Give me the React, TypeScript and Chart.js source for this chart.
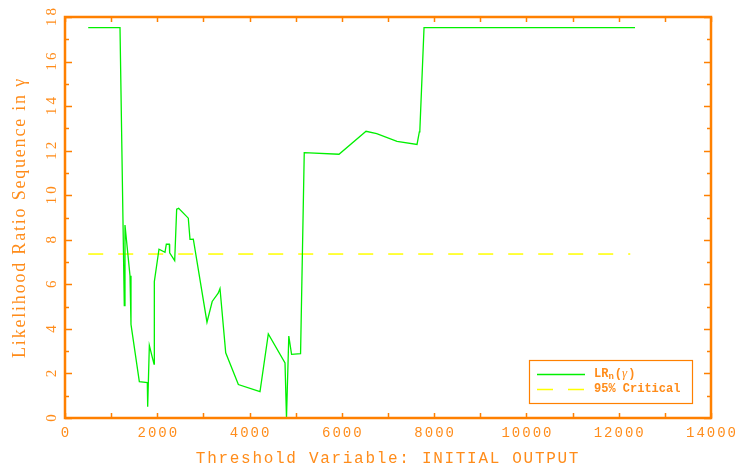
import { useEffect, useRef } from 'react';
import { Chart, registerables } from 'chart.js';

Chart.register(...registerables);

// ---- data ----
const thresholdX = [
  503, 1192, 1285, 1300, 1409, 1430, 1611, 1784, 1792, 1828, 1929, 1936, 2037, 2167, 2196, 2261,
  2268, 2377, 2420, 2463, 2672, 2709, 2781, 3077, 3190, 3320, 3359, 3483, 3757, 4226, 4406, 4768,
  4800, 4850, 4910, 5105, 5185, 5938, 6524, 6755, 7195, 7629, 7679, 7690, 7781, 12353,
];
const lrValues = [
  17.52, 17.52, 5.04, 8.66, 6.38, 4.2, 1.63, 1.59, 0.51, 3.25, 2.42, 6.12, 7.58, 7.44, 7.8, 7.8,
  7.41, 7.06, 9.37, 9.41, 8.97, 8.02, 8.03, 4.3, 5.23, 5.6, 5.81, 2.93, 1.5, 1.18, 3.77, 2.47,
  0.0, 3.68, 2.86, 2.89, 11.91, 11.84, 12.87, 12.76, 12.42, 12.28, 12.84, 12.9, 17.52, 17.52,
];
const criticalX = [503, 12250];
const criticalValue = 7.36;

const xTicks = [0, 2000, 4000, 6000, 8000, 10000, 12000, 14000];
const xMinorTicks = [1000, 3000, 5000, 7000, 9000, 11000, 13000];
const yTicks = [0, 2, 4, 6, 8, 10, 12, 14, 16, 18];
const yMinorTicks = [1, 3, 5, 7, 9, 11, 13, 15, 17];

const xTitle = 'Threshold Variable: INITIAL OUTPUT';
const yTitle = 'Likelihood Ratio Sequence in γ';
const legendLabels = ['LR', '95% Critical'];

const FRAME = '#ff8000';
const TEXT = '#ff8c1a';
const GREEN = '#00f000';
const YELLOW = '#ffff00';

const framePlugin = {
  id: 'framePlugin',
  afterDraw(chart: any) {
    const ctx = chart.ctx as CanvasRenderingContext2D;
    const { left, right, top, bottom } = chart.chartArea;
    const xs = chart.scales.x;
    const ys = chart.scales.y;
    ctx.save();
    // ticks
    ctx.strokeStyle = FRAME;
    ctx.lineWidth = 1.5;
    ctx.beginPath();
    const xAll = [...xTicks, ...xMinorTicks];
    xAll.forEach((v) => {
      const px = Math.round(xs.getPixelForValue(v)) + 0.5;
      ctx.moveTo(px, bottom);
      ctx.lineTo(px, bottom - 5);
      ctx.moveTo(px, top);
      ctx.lineTo(px, top + 5);
    });
    yTicks.forEach((v) => {
      const py = Math.round(ys.getPixelForValue(v)) + 0.5;
      ctx.moveTo(left, py);
      ctx.lineTo(left + 7, py);
      ctx.moveTo(right, py);
      ctx.lineTo(right - 7, py);
    });
    yMinorTicks.forEach((v) => {
      const py = Math.round(ys.getPixelForValue(v)) + 0.5;
      ctx.moveTo(left, py);
      ctx.lineTo(left + 4, py);
      ctx.moveTo(right, py);
      ctx.lineTo(right - 4, py);
    });
    ctx.stroke();
    // frame
    ctx.lineWidth = 2.5;
    ctx.strokeRect(left, top, right - left, bottom - top);

    // x tick labels
    ctx.fillStyle = TEXT;
    ctx.font = '14px "Liberation Mono"';
    (ctx as any).letterSpacing = '2px';
    ctx.textAlign = 'center';
    ctx.textBaseline = 'middle';
    xTicks.forEach((v) => {
      ctx.fillText(String(v), xs.getPixelForValue(v) + 1, bottom + 15);
    });
    // x title
    ctx.font = '16px "Liberation Mono"';
    (ctx as any).letterSpacing = '1.7px';
    ctx.fillText(xTitle, (left + right) / 2, bottom + 41);

    // y tick labels, rotated
    ctx.font = '15px "Liberation Serif"';
    (ctx as any).letterSpacing = '3px';
    yTicks.forEach((v) => {
      const py = ys.getPixelForValue(v);
      ctx.save();
      ctx.translate(left - 13, py);
      ctx.rotate(-Math.PI / 2);
      ctx.fillText(String(v), 1.5, 0);
      ctx.restore();
    });
    // y title
    ctx.font = '18px "Liberation Serif"';
    (ctx as any).letterSpacing = '1.8px';
    ctx.save();
    ctx.translate(left - 45, (top + bottom) / 2);
    ctx.rotate(-Math.PI / 2);
    ctx.fillText(yTitle, 0, 0);
    ctx.restore();

    // legend
    (ctx as any).letterSpacing = '0px';
    const bx = right - 182;
    const by = bottom - 58;
    const bw = 163;
    const bh = 43;
    ctx.fillStyle = '#ffffff';
    ctx.fillRect(bx, by, bw, bh);
    ctx.strokeStyle = FRAME;
    ctx.lineWidth = 1.2;
    ctx.strokeRect(bx + 0.5, by + 0.5, bw, bh);
    ctx.lineWidth = 1.3;
    ctx.strokeStyle = GREEN;
    ctx.beginPath();
    ctx.moveTo(bx + 8, by + 14.5);
    ctx.lineTo(bx + 56, by + 14.5);
    ctx.stroke();
    ctx.strokeStyle = YELLOW;
    ctx.setLineDash([16, 15]);
    ctx.beginPath();
    ctx.moveTo(bx + 8, by + 29.5);
    ctx.lineTo(bx + 56, by + 29.5);
    ctx.stroke();
    ctx.setLineDash([]);
    ctx.fillStyle = TEXT;
    ctx.textAlign = 'left';
    ctx.textBaseline = 'middle';
    ctx.font = 'bold 12px "Liberation Mono"';
    let tx = bx + 65;
    ctx.fillText(legendLabels[0], tx, by + 14);
    tx += ctx.measureText(legendLabels[0]).width;
    ctx.font = 'bold 9px "Liberation Mono"';
    ctx.fillText('n', tx, by + 17);
    tx += ctx.measureText('n').width + 1;
    ctx.font = 'bold 12px "Liberation Mono"';
    ctx.fillText('(', tx, by + 14);
    tx += ctx.measureText('(').width;
    ctx.font = 'italic 13px "Liberation Serif"';
    ctx.fillText('γ', tx, by + 14);
    tx += ctx.measureText('γ').width + 1;
    ctx.font = 'bold 12px "Liberation Mono"';
    ctx.fillText(')', tx, by + 14);
    ctx.fillText(legendLabels[1], bx + 65, by + 29);
    ctx.restore();
  },
};

const bgPlugin = {
  id: 'bgPlugin',
  beforeDraw(chart: any) {
    const ctx = chart.ctx as CanvasRenderingContext2D;
    ctx.save();
    ctx.fillStyle = '#ffffff';
    ctx.fillRect(0, 0, chart.width, chart.height);
    ctx.restore();
  },
};

export default function App() {
  const ref = useRef<HTMLCanvasElement | null>(null);
  useEffect(() => {
    if (!ref.current) return;
    const chart = new Chart(ref.current, {
      type: 'line',
      data: {
        datasets: [
          {
            label: 'LRn(γ)',
            data: thresholdX.map((x, i) => ({ x, y: lrValues[i] })),
            borderColor: GREEN,
            borderWidth: 1.3,
            pointRadius: 0,
            tension: 0,
            fill: false,
          },
          {
            label: '95% Critical',
            data: criticalX.map((x) => ({ x, y: criticalValue })),
            borderColor: YELLOW,
            borderWidth: 1.5,
            borderDash: [15, 15],
            pointRadius: 0,
            tension: 0,
            fill: false,
          },
        ],
      },
      options: {
        animation: false,
        responsive: false,
        maintainAspectRatio: false,
        layout: { padding: { left: 65, top: 17, right: 28, bottom: 54 } },
        plugins: { legend: { display: false }, tooltip: { enabled: false }, title: { display: false } },
        scales: {
          x: { type: 'linear', min: 0, max: 14000, display: false },
          y: { type: 'linear', min: 0, max: 18, display: false },
        },
      },
      plugins: [bgPlugin, framePlugin],
    });
    return () => chart.destroy();
  }, []);
  return (
    <canvas
      ref={ref}
      width={739}
      height={472}
      style={{ position: 'absolute', left: 0, top: 0, display: 'block' }}
    />
  );
}
